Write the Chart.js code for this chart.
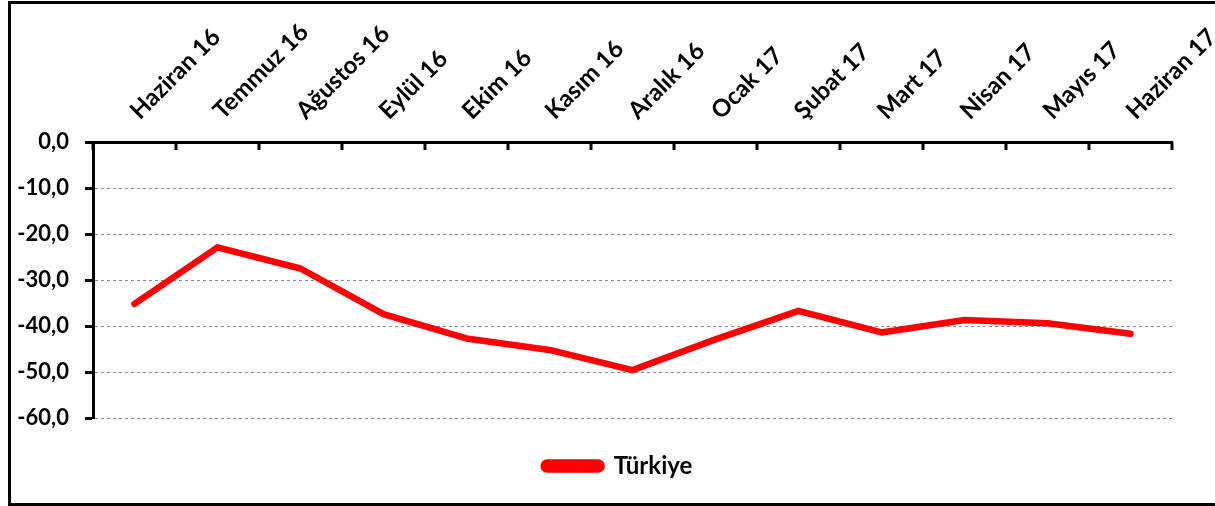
<!DOCTYPE html>
<html>
<head>
<meta charset="utf-8">
<script src="https://cdn.jsdelivr.net/npm/chart.js@4"></script>
<style>
  html, body { margin: 0; padding: 0; background: #fff; overflow: hidden; }
  #wrap { position: relative; width: 1215px; height: 506px; }
  #frame { position: absolute; left: 8px; top: 1px; width: 1300px; height: 499px; border: 3px solid #000; box-sizing: content-box; }
  canvas { position: absolute; left: 0; top: 0; }
</style>
</head>
<body>
<div id="wrap">
  <div id="frame"></div>
  <canvas id="chart" width="1215" height="506"></canvas>
</div>
<script>
// Türkiye series, June 2016 – June 2017
const months = ['Haziran 16', 'Temmuz 16', 'Ağustos 16', 'Eylül 16', 'Ekim 16', 'Kasım 16', 'Aralık 16',
                'Ocak 17', 'Şubat 17', 'Mart 17', 'Nisan 17', 'Mayıs 17', 'Haziran 17'];
const turkiye = [-35.2, -22.9, -27.5, -37.4, -42.7, -45.2, -49.6, -42.9, -36.7, -41.4, -38.7, -39.4, -41.7];
const seriesName = 'Türkiye';
const yMin = -60, yMax = 0, yStep = 10;

const FONT = 'Lato, "Open Sans", sans-serif';
const fmt = v => v.toFixed(1).replace('.', ',');

// short tick marks pointing down from the top axis, at category boundaries
const topTicks = {
  id: 'topTicks',
  afterDraw(chart) {
    const x = chart.scales.x, ctx = chart.ctx;
    ctx.save();
    ctx.strokeStyle = '#000';
    ctx.lineWidth = 3;
    ctx.beginPath();
    for (let i = 0; i <= months.length; i++) {
      const px = Math.round(x.getPixelForValue(i - 0.5));
      ctx.moveTo(px, x.bottom);
      ctx.lineTo(px, x.bottom + 8);
    }
    ctx.stroke();
    ctx.restore();
  }
};

// legend in the original sits a bit right of the canvas centre
const legendNudge = {
  id: 'legendNudge',
  afterLayout(chart) {
    chart.legend.left += 32;
    chart.legend.right += 32;
  }
};

new Chart(document.getElementById('chart'), {
  type: 'line',
  data: {
    labels: months,
    datasets: [{
      label: seriesName,
      data: turkiye,
      borderColor: '#ff0000',
      backgroundColor: '#ff0000',
      borderWidth: 6.5,
      borderCapStyle: 'round',
      borderJoinStyle: 'round',
      pointRadius: 0,
      tension: 0
    }]
  },
  options: {
    responsive: false,
    animation: false,
    layout: { padding: { left: 0, top: 0, right: 43, bottom: 18 } },
    plugins: {
      tooltip: { enabled: false },
      legend: {
        position: 'bottom',
        labels: {
          color: '#000',
          font: { family: FONT, size: 24, weight: 'bold' },
          boxWidth: 58,
          boxHeight: 7,
          useBorderRadius: true,
          borderRadius: 3.5,
          padding: 36
        }
      }
    },
    scales: {
      x: {
        position: 'top',
        offset: true,
        grid: { display: false, drawTicks: false },
        border: { display: true, color: '#000', width: 3 },
        ticks: {
          color: '#000',
          font: { family: FONT, size: 24, weight: 'bold', lineHeight: 0 },
          minRotation: 45,
          maxRotation: 45,
          autoSkip: false,
          padding: 27
        },
        afterFit(s) { s.height = 142; s.paddingLeft = 0; s.paddingRight = 0; }
      },
      y: {
        min: yMin,
        max: yMax,
        grid: {
          color: '#8c8c8c',
          lineWidth: 1,
          drawTicks: true,
          tickLength: 8,
          tickColor: '#000',
          tickWidth: 3
        },
        border: { display: true, color: '#000', width: 3, dash: [3, 3] },
        ticks: {
          stepSize: yStep,
          color: '#000',
          font: { family: FONT, size: 22, weight: 'bold' },
          padding: 16,
          callback: v => fmt(v)
        },
        afterFit(s) { s.width = 93; }
      }
    }
  },
  plugins: [topTicks, legendNudge]
});
</script>
</body>
</html>
